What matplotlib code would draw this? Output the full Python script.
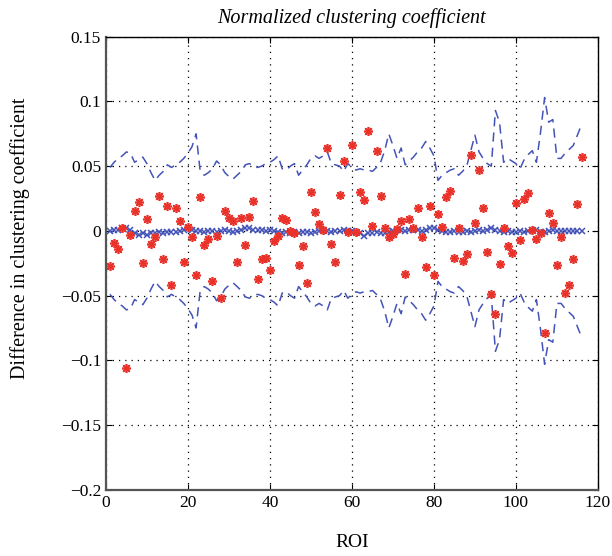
#!/usr/bin/env python3
"""Normalized clustering coefficient: per-ROI difference vs. null band."""
import matplotlib
matplotlib.use('Agg')
import matplotlib.pyplot as plt
import numpy as np

plt.rcParams['font.family'] = 'serif'
plt.rcParams['font.serif'] = ['Liberation Serif', 'Times New Roman', 'DejaVu Serif']
plt.rcParams['font.size'] = 12

# observed difference per ROI (red asterisks), ROI 1..116
diff_obs = [
    -0.027, -0.009, -0.014, 0.002, -0.106, -0.003, 0.015, 0.022, -0.025, 0.0095,
    -0.010, -0.005, 0.027, -0.022, 0.019, -0.042, 0.018, 0.008, -0.024, 0.003,
    -0.005, -0.034, 0.026, -0.011, -0.006, -0.039, -0.004, -0.052, 0.0155, 0.010,
    0.008, -0.024, 0.010, -0.011, 0.011, 0.023, -0.037, -0.022, -0.021, -0.030,
    -0.0075, -0.0036, 0.010, 0.0085, 0.000, -0.0015, -0.026, -0.012, -0.040, 0.030,
    0.0145, 0.0057, 0.0008, 0.064, -0.0098, -0.024, 0.028, 0.054, -0.0005, 0.066,
    -0.001, 0.030, 0.024, 0.0775, 0.0036, 0.0616, 0.0268, 0.0026, -0.0046, -0.0026,
    0.0015, 0.0075, -0.0335, 0.0093, 0.0023, 0.0175, -0.0044, -0.028, 0.0196, -0.034,
    0.0129, 0.0033, 0.026, 0.031, -0.0206, 0.002, -0.023, -0.0175, 0.059, 0.006,
    0.047, 0.018, -0.016, -0.0487, -0.064, -0.0257, 0.002, -0.012, -0.017, 0.0216,
    -0.0067, 0.0245, 0.029, 0.001, -0.006, -0.002, -0.0786, 0.0141, 0.0064, -0.026,
    -0.005, -0.048, -0.0415, -0.0214, 0.0206, 0.057,
]

# mean of null differences (blue crosses)
diff_null = [
    0.000, 0.001, 0.001, 0.002, 0.002, 0.001, -0.002, -0.003, -0.002, -0.003,
    -0.002, -0.002, -0.001, -0.002, -0.001, -0.001, -0.001, 0.000, 0.001, 0.002,
    0.001, 0.000, 0.000, -0.001, 0.000, 0.000, -0.001, 0.000, 0.001, 0.000,
    -0.001, 0.000, 0.001, 0.002, 0.002, 0.001, 0.001, 0.001, 0.000, 0.001,
    0.000, -0.001, -0.002, -0.001, -0.002, -0.001, -0.002, -0.001, -0.001, -0.002,
    -0.001, 0.000, 0.001, 0.000, -0.001, 0.000, 0.000, 0.001, 0.000, 0.000,
    -0.001, -0.002, -0.004, -0.002, -0.002, -0.001, -0.002, -0.002, -0.001, 0.000,
    0.001, 0.001, 0.000, 0.001, 0.001, 0.001, 0.000, 0.001, 0.002, 0.002,
    0.001, 0.000, -0.001, -0.001, 0.000, -0.001, -0.001, 0.000, -0.001, 0.000,
    0.001, 0.000, 0.001, 0.002, 0.001, 0.000, -0.001, 0.000, -0.001, -0.001,
    0.000, -0.001, 0.000, 0.001, 0.001, -0.001, -0.001, 0.000, 0.001, 0.000,
    0.000, 0.000, 0.000, 0.000, 0.000, 0.000,
]

# upper bound of null band (dashed); band is symmetric about zero
ci_upper = [
    0.049, 0.053, 0.056, 0.058, 0.061, 0.060, 0.053, 0.055, 0.057, 0.052,
    0.045, 0.039, 0.043, 0.046, 0.051, 0.049, 0.051, 0.053, 0.056, 0.060,
    0.065, 0.075, 0.046, 0.043, 0.045, 0.048, 0.054, 0.051, 0.045, 0.042,
    0.040, 0.043, 0.046, 0.051, 0.052, 0.050, 0.049, 0.050, 0.052, 0.053,
    0.055, 0.058, 0.048, 0.047, 0.050, 0.052, 0.043, 0.047, 0.051, 0.056,
    0.058, 0.056, 0.058, 0.061, 0.052, 0.051, 0.050, 0.046, 0.052, 0.049,
    0.047, 0.048, 0.047, 0.047, 0.046, 0.049, 0.053, 0.062, 0.075, 0.066,
    0.056, 0.064, 0.051, 0.054, 0.057, 0.061, 0.064, 0.069, 0.064, 0.058,
    0.039, 0.043, 0.045, 0.047, 0.048, 0.043, 0.046, 0.050, 0.062, 0.074,
    0.061, 0.056, 0.052, 0.050, 0.093, 0.084, 0.053, 0.056, 0.054, 0.052,
    0.048, 0.055, 0.059, 0.062, 0.053, 0.076, 0.103, 0.084, 0.086, 0.056,
    0.056, 0.060, 0.063, 0.066, 0.074, 0.082,
]
ci_lower = [-v for v in ci_upper]

roi = np.arange(1, len(diff_obs) + 1)
blue = '#4453b8'
red = '#e8322a'

fig = plt.figure(figsize=(6.12, 5.56), dpi=100)
ax = fig.add_axes([0.173, 0.119, 0.804, 0.815])

ax.plot(roi, ci_upper, ls=(0, (6, 4)), color=blue, lw=1.1)
ax.plot(roi, ci_lower, ls=(0, (6, 4)), color=blue, lw=1.1)
ax.plot(roi, diff_null, ls='none', marker='x', ms=4.5, mew=1.1, color=blue)
ax.plot(roi, diff_obs, ls='none', marker=(8, 2, 0), ms=6.5, mew=1.2, color=red)

ax.set_xlim(0, 120)
ax.set_ylim(-0.2, 0.15)
ax.set_xticks(np.arange(0, 121, 20))
ax.set_yticks(np.arange(-0.2, 0.151, 0.05))
ax.yaxis.set_major_formatter(plt.FuncFormatter(
    lambda v, _: '0' if abs(v) < 1e-9 else f'{v:g}'.replace('-', '\u2212')))

ax.grid(True, color='black', ls=(0, (1, 4)), lw=0.9)
ax.set_axisbelow(True)
ax.tick_params(direction='in', top=True, right=True, length=4, labelsize=12.5)
ax.spines['left'].set_color('#555555')
ax.spines['left'].set_linewidth(1.6)
ax.spines['bottom'].set_color('#555555')
ax.spines['bottom'].set_linewidth(1.6)
for s in ('top', 'right'):
    ax.spines[s].set_linewidth(1.0)

ax.set_xlabel('ROI', fontsize=14)
ax.xaxis.set_label_coords(0.5, -0.097)
ax.set_ylabel('Difference in clustering coefficient', fontsize=14.5)
ax.yaxis.set_label_coords(-0.155, 0.555)
ax.set_title('Normalized clustering coefficient', fontsize=14.5, style='italic', pad=10)

plt.savefig('out.png', dpi=100)
plt.close()
